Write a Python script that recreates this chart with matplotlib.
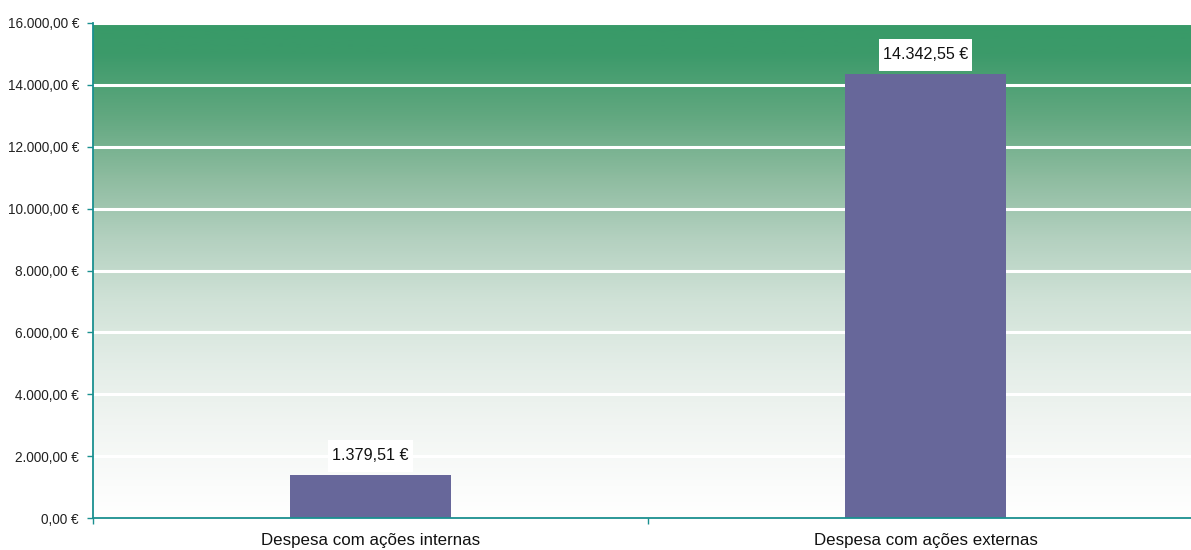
import numpy as np
import matplotlib
matplotlib.use('Agg')
import matplotlib.pyplot as plt
import matplotlib.colors as mcolors
from matplotlib.patches import Rectangle

plt.rcParams['font.family'] = ['Liberation Sans', 'DejaVu Sans']

categories = ['Despesa com ações internas', 'Despesa com ações externas']
values = [1379.51, 14342.55]
y_ticks = [0, 2000, 4000, 6000, 8000, 10000, 12000, 14000, 16000]

BAR_COLOR = '#67679a'
AXIS_COLOR = '#1a9090'

# background gradient stops (fraction of height, colour)
GRAD_STOPS = [(0.0, '#ffffff'), (0.0625, '#fbfcfb'), (0.1875, '#f1f5f2'),
              (0.3125, '#e3ede7'), (0.4375, '#d0e2d7'), (0.5625, '#b4d1c0'),
              (0.6875, '#8ebca0'), (0.8125, '#62a880'), (0.94, '#3c9a6a'),
              (1.0, '#389a68')]


def fmt_eur(v):
    s = f'{v:,.2f}'.replace(',', 'X').replace('.', ',').replace('X', '.')
    return f'{s} €'


fig = plt.figure(figsize=(11.91, 5.5), dpi=100)
fig.patch.set_facecolor('white')
ax = fig.add_axes([93 / 1191, 32 / 550, 1110 / 1191, 495 / 550])

cmap = mcolors.LinearSegmentedColormap.from_list('bg', GRAD_STOPS)
grad = np.linspace(0, 1, 500)[:, None]
ax.imshow(grad, cmap=cmap, origin='lower', aspect='auto',
          extent=[-0.5, 1.5, 0, 16000], zorder=0, interpolation='bilinear')

for yv in y_ticks[1:]:
    ax.axhline(yv, color='white', lw=2.2, zorder=1)

x = np.arange(len(categories))
ax.bar(x, values, width=0.29, color=BAR_COLOR, zorder=2)

ax.set_xlim(-0.5, 1.5)
ax.set_ylim(0, 16000)
ax.set_yticks(y_ticks)
ax.set_yticklabels([fmt_eur(v) for v in y_ticks], fontsize=9.8, color='#222222')
ax.set_xticks(x)
ax.set_xticklabels(categories, fontsize=12.2, color='#111111')
ax.set_xticks([-0.5, 0.5, 1.5], minor=True)
ax.tick_params(axis='x', which='major', length=0, pad=11)
ax.tick_params(axis='x', which='minor', length=4, color=AXIS_COLOR, width=1)
ax.tick_params(axis='y', length=4, color=AXIS_COLOR, width=1, pad=6)

for side in ['top', 'right']:
    ax.spines[side].set_visible(False)
for side in ['left', 'bottom']:
    ax.spines[side].set_color(AXIS_COLOR)
    ax.spines[side].set_linewidth(1.3)
    ax.spines[side].set_zorder(3)

# value labels in white boxes above the bars
fig.canvas.draw()
r = fig.canvas.get_renderer()
for xi, v in zip(x, values):
    px, py = ax.transData.transform((xi, v))
    txt = fig.text(px / fig.bbox.width, (py + 19.5) / fig.bbox.height,
                   fmt_eur(v), ha='center', va='center', fontsize=11.6,
                   color='#111111', zorder=6)
    bb = txt.get_window_extent(r)
    w, h = bb.width + 8, 32
    fig.patches.append(Rectangle((px - w / 2, py + 3.5), w, h,
                                 transform=None, facecolor='white',
                                 edgecolor='none', zorder=4))

fig.savefig('out.png', dpi=100, facecolor='white')
